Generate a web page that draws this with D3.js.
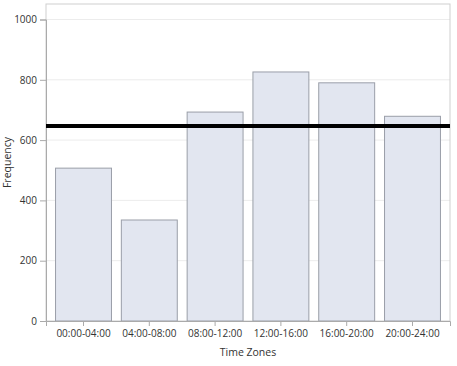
<!DOCTYPE html>
<html>
<head>
<meta charset="utf-8">
<script src="https://cdn.jsdelivr.net/npm/d3@7"></script>
<style>
  body { margin: 0; background: #fff; }
  text { font-family: "Open Sans", "DejaVu Sans", sans-serif; fill: #333; }
</style>
</head>
<body>
<div id="chart"></div>
<script>
// categories and frequencies
var zones = ["00:00-04:00", "04:00-08:00", "08:00-12:00", "12:00-16:00", "16:00-20:00", "20:00-24:00"];
var counts = [507, 335, 693, 826, 790, 679];
var refValue = 647;
var yTicks = [0, 200, 400, 600, 800, 1000];

var W = 457, H = 366;
var m = {left: 46, right: 450, top: 4, bottom: 321};

var svg = d3.select("#chart").append("svg")
  .attr("width", W).attr("height", H);

var x = d3.scaleBand().domain(zones).range([m.left, m.right])
  .paddingInner(0.15).paddingOuter(0.145);
var y = d3.scaleLinear().domain([0, 1000]).range([m.bottom, 19.5]);

// grid
svg.append("g").selectAll("line").data(yTicks.slice(1)).enter().append("line")
  .attr("x1", m.left).attr("x2", m.right)
  .attr("y1", function(d) { return y(d); }).attr("y2", function(d) { return y(d); })
  .attr("stroke", "#ececec").attr("stroke-width", 1);

// frame
svg.append("rect")
  .attr("x", m.left).attr("y", m.top).attr("width", m.right - m.left).attr("height", m.bottom - m.top)
  .attr("fill", "none").attr("stroke", "#cfcfcf");

// bars
svg.append("g").selectAll("rect").data(counts).enter().append("rect")
  .attr("x", function(d, i) { return x(zones[i]); })
  .attr("y", function(d) { return y(d); })
  .attr("width", x.bandwidth())
  .attr("height", function(d) { return y(0) - y(d); })
  .attr("fill", "#e2e6f0").attr("stroke", "#9a9ea8").attr("stroke-width", 1);

// axes
var yAxis = svg.append("g").attr("transform", "translate(" + m.left + ",0)")
  .call(d3.axisLeft(y).tickValues(yTicks).tickFormat(d3.format("d")).tickSize(6).tickPadding(3));
var xAxis = svg.append("g").attr("transform", "translate(0," + m.bottom + ")")
  .call(d3.axisBottom(x).tickSize(5).tickPadding(4));
[yAxis, xAxis].forEach(function(a) {
  a.select(".domain").attr("stroke", "#aaa");
  a.selectAll(".tick line").attr("stroke", "#aaa");
  a.selectAll(".tick text").style("font-size", "10px").style("font-family", "Open Sans, sans-serif").attr("fill", "#333");
});

// reference line
svg.append("line")
  .attr("x1", m.left).attr("x2", m.right)
  .attr("y1", y(refValue)).attr("y2", y(refValue))
  .attr("stroke", "#000").attr("stroke-width", 4);

// axis titles
svg.append("text")
  .attr("x", (m.left + m.right) / 2).attr("y", 356)
  .attr("text-anchor", "middle").style("font-size", "10.5px")
  .text("Time Zones");
svg.append("text")
  .attr("transform", "translate(11," + ((m.top + m.bottom) / 2) + ") rotate(-90)")
  .attr("text-anchor", "middle").style("font-size", "10.5px")
  .text("Frequency");
</script>
</body>
</html>
